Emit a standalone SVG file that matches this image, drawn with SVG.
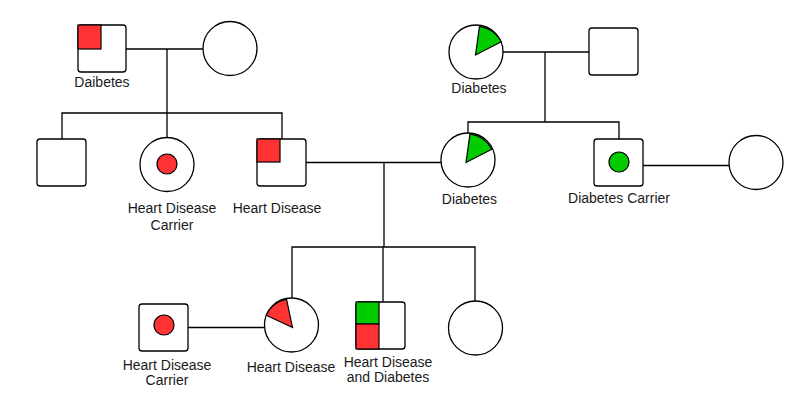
<svg xmlns="http://www.w3.org/2000/svg" width="800" height="406" viewBox="0 0 800 406">
<style>
.sq{fill:#fff;stroke:#000;stroke-width:1.3}
.ci{fill:#fff;stroke:#000;stroke-width:1.3}
.red{fill:#ff3333;stroke:#000;stroke-width:1.2}
.grn{fill:#00cc00;stroke:#000;stroke-width:1.2}
.ln{fill:none;stroke:#000;stroke-width:1.3}
text{font-family:"Liberation Sans",Arial,sans-serif;font-size:14px;fill:#1a1a1a;text-anchor:middle}
</style>
<rect width="800" height="406" fill="#fff"/>
<g id="connectors">
<path class="ln" d="M126,49H203M167,49V113M62,139V113H282V139M167,113V138"/>
<path class="ln" d="M503,52H589M545,52V122M468,133V122H619V139"/>
<path class="ln" d="M306,162.5H441M384,162.5V247M292,298V247H475V301M383,247V302"/>
<path class="ln" d="M643,165.5H729"/>
<path class="ln" d="M188,327.5H264"/>
</g>
<g id="gf1">
<rect class="sq" x="78" y="25" width="48" height="47" rx="3"/>
<rect class="red" x="78" y="25" width="23" height="24"/>
<text x="102" y="87">Daibetes</text>
</g>
<g id="gm1">
<circle class="ci" cx="230" cy="48.5" r="27"/>
</g>
<g id="gm2">
<circle class="ci" cx="476" cy="52" r="27"/>
<path class="grn" d="M475.5,55L479.5,26.3A29,29 0 0 1 501.3,41.8Z"/>
<text x="479" y="93">Diabetes</text>
</g>
<g id="gf2">
<rect class="sq" x="589" y="28" width="49" height="47" rx="3"/>
</g>
<g id="son1">
<rect class="sq" x="37" y="139" width="49" height="47" rx="3"/>
</g>
<g id="daughter1">
<circle class="ci" cx="167" cy="164.5" r="27"/>
<circle class="red" cx="167" cy="164" r="10"/>
<text x="172" y="213">Heart Disease</text>
<text x="172" y="230">Carrier</text>
</g>
<g id="father">
<rect class="sq" x="257" y="139" width="49" height="47" rx="3"/>
<rect class="red" x="257" y="139" width="23" height="23"/>
<text x="277" y="213">Heart Disease</text>
</g>
<g id="mother">
<circle class="ci" cx="468" cy="160" r="27"/>
<path class="grn" d="M466,162.5L470,133.8A29,29 0 0 1 491.8,149.3Z"/>
<text x="469.5" y="204">Diabetes</text>
</g>
<g id="son2">
<rect class="sq" x="594" y="139" width="49" height="47" rx="3"/>
<circle class="grn" cx="619" cy="162" r="10"/>
<text x="619" y="203">Diabetes Carrier</text>
</g>
<g id="spouse2">
<circle class="ci" cx="756" cy="162.5" r="27"/>
</g>
<g id="husband3">
<rect class="sq" x="139" y="304" width="49" height="47" rx="3"/>
<circle class="red" cx="164" cy="325" r="10"/>
<text x="167" y="370">Heart Disease</text>
<text x="167" y="385">Carrier</text>
</g>
<g id="child1">
<circle class="ci" cx="291.5" cy="325" r="27"/>
<path class="red" d="M292.5,327.5L266.2,315.2A29,29 0 0 1 286.5,299.1Z"/>
<text x="291" y="372">Heart Disease</text>
</g>
<g id="child2">
<rect class="sq" x="356" y="302" width="49" height="47" rx="3"/>
<rect class="grn" x="356" y="302" width="23" height="22"/>
<rect class="red" x="356" y="324" width="23" height="25"/>
<text x="388" y="367">Heart Disease</text>
<text x="388" y="382">and Diabetes</text>
</g>
<g id="child3">
<circle class="ci" cx="475.5" cy="328" r="27"/>
</g>
</svg>
